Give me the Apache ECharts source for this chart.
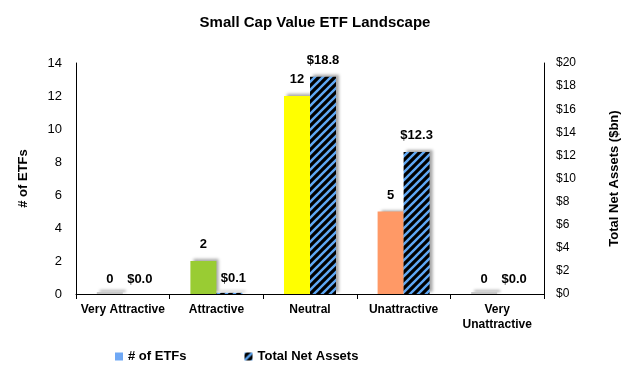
<!DOCTYPE html>
<html><head><meta charset="utf-8">
<script src="https://cdn.jsdelivr.net/npm/echarts@6/dist/echarts.min.js"></script>
<style>html,body{margin:0;padding:0;background:#fff}#c{width:630px;height:367px}</style>
</head><body><div id="c"></div>
<script>
const categories = ['Very Attractive', 'Attractive', 'Neutral', 'Unattractive', 'Very\nUnattractive'];
const etfCounts = [0, 2, 12, 5, 0];
const netAssets = [0.0, 0.1, 18.8, 12.3, 0.0];
const barColors = ['#c8c8c8', '#99cc33', '#ffff00', '#ff9966', '#c8c8c8'];
const leftTicks = {min: 0, max: 14, interval: 2};
const rightTicks = {min: 0, max: 20, interval: 2};

const FONT = 'Liberation Sans, Arial, sans-serif';
const s = 8;
const cv = document.createElement('canvas');
cv.width = s; cv.height = s;
const g = cv.getContext('2d');
g.fillStyle = '#000'; g.fillRect(0, 0, s, s);
g.strokeStyle = '#5fa8f5'; g.lineWidth = 2.4;
[[-1, s + 1, s + 1, -1], [-1, 1, 1, -1], [s - 1, s + 1, s + 1, s - 1]].forEach(l => {
  g.beginPath(); g.moveTo(l[0], l[1]); g.lineTo(l[2], l[3]); g.stroke();
});
const hatch = {image: cv, repeat: 'repeat'};

const shadow = {shadowColor: 'rgba(0,0,0,0.35)', shadowBlur: 3, shadowOffsetX: 3, shadowOffsetY: -2};
const labelStyle = {show: true, position: 'top', distance: 10, color: '#000', fontFamily: FONT, fontWeight: 'bold', fontSize: 13};

const chart = echarts.init(document.getElementById('c'));
chart.setOption({
  animation: false,
  title: {text: 'Small Cap Value ETF Landscape', left: 'center', top: 10,
    textStyle: {fontFamily: FONT, fontWeight: 'bold', fontSize: 15, color: '#000'}},
  grid: {left: 76, right: 86, top: 63, bottom: 73},
  legend: {top: 345, left: 110, itemWidth: 8, itemHeight: 8, itemGap: 58,
    textStyle: {fontFamily: FONT, fontWeight: 'bold', fontSize: 13, color: '#000'},
    data: [{name: '# of ETFs', icon: 'rect', itemStyle: {color: '#6fa8f5'}},
           {name: 'Total Net Assets', icon: 'rect'}]},
  xAxis: {type: 'category', data: categories,
    axisLine: {lineStyle: {color: '#000', width: 1}},
    axisTick: {show: true, length: 5, lineStyle: {color: '#000'}},
    axisLabel: {color: '#000', fontFamily: FONT, fontWeight: 'bold', fontSize: 12, margin: 8, interval: 0, lineHeight: 15}},
  yAxis: [
    {type: 'value', min: leftTicks.min, max: leftTicks.max, interval: leftTicks.interval,
      name: '# of ETFs', nameLocation: 'middle', nameGap: 46, nameRotate: 90,
      nameTextStyle: {fontFamily: FONT, fontWeight: 'bold', fontSize: 13, color: '#000'},
      axisLine: {show: true, lineStyle: {color: '#000'}}, axisTick: {show: false},
      splitLine: {show: false},
      axisLabel: {color: '#000', fontFamily: FONT, fontSize: 13, margin: 14}},
    {type: 'value', min: rightTicks.min, max: rightTicks.max, interval: rightTicks.interval,
      name: 'Total Net Assets ($bn)', nameLocation: 'middle', nameGap: 64, nameRotate: 90,
      nameTextStyle: {fontFamily: FONT, fontWeight: 'bold', fontSize: 13, color: '#000'},
      axisLine: {show: true, lineStyle: {color: '#000'}}, axisTick: {show: false},
      splitLine: {show: false},
      axisLabel: {color: '#000', fontFamily: FONT, fontSize: 12, margin: 12, formatter: v => '$' + v}}
  ],
  series: [
    {name: '# of ETFs', type: 'bar', yAxisIndex: 0, barWidth: 26, barGap: '0%', barMinHeight: 2,
      itemStyle: Object.assign({color: '#6fa8f5'}, shadow),
      label: Object.assign({formatter: p => String(p.value)}, labelStyle),
      data: etfCounts.map((v, i) => ({value: v, itemStyle: {color: barColors[i]},
        label: v === 0 ? {distance: 6} : {}}))},
    {name: 'Total Net Assets', type: 'bar', yAxisIndex: 1, barWidth: 26,
      itemStyle: Object.assign({color: hatch}, shadow),
      label: Object.assign({formatter: p => '$' + p.value.toFixed(1)}, labelStyle),
      data: netAssets.map(v => v < 0.5 ? {value: v, label: {distance: 8, offset: [4, 0]}} : v)}
  ]
});
</script></body></html>
